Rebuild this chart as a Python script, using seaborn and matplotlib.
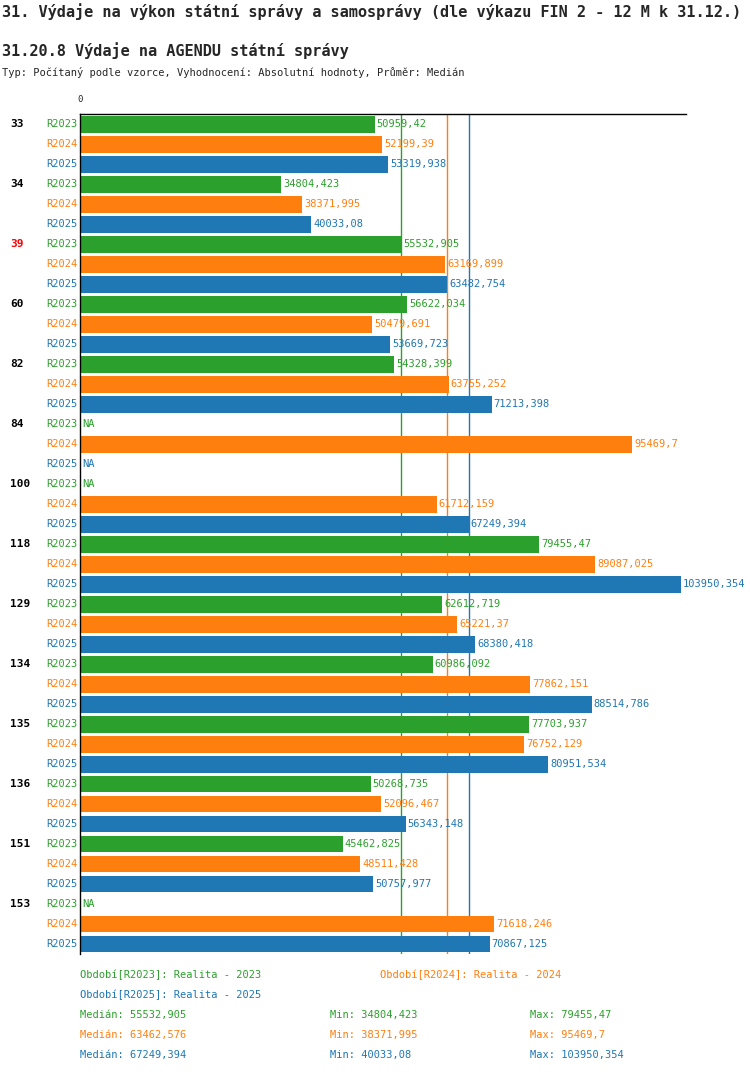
import numpy as np
import pandas as pd
import seaborn as sns
import matplotlib.pyplot as plt

groups = ['33', '34', '39', '60', '82', '84', '100', '118', '129', '134', '135', '136', '151', '153']
series = ['R2023', 'R2024', 'R2025']
r2023 = [50959.42, 34804.423, 55532.905, 56622.034, 54328.399, np.nan, np.nan, 79455.47,
         62612.719, 60986.092, 77703.937, 50268.735, 45462.825, np.nan]
r2024 = [52199.39, 38371.995, 63169.899, 50479.691, 63755.252, 95469.7, 61712.159, 89087.025,
         65221.37, 77862.151, 76752.129, 52096.467, 48511.428, 71618.246]
r2025 = [53319.938, 40033.08, 63482.754, 53669.723, 71213.398, np.nan, 67249.394, 103950.354,
         68380.418, 88514.786, 80951.534, 56343.148, 50757.977, 70867.125]
labels_txt = {
    'R2023': ['50959,42', '34804,423', '55532,905', '56622,034', '54328,399', 'NA', 'NA', '79455,47',
              '62612,719', '60986,092', '77703,937', '50268,735', '45462,825', 'NA'],
    'R2024': ['52199,39', '38371,995', '63169,899', '50479,691', '63755,252', '95469,7', '61712,159',
              '89087,025', '65221,37', '77862,151', '76752,129', '52096,467', '48511,428', '71618,246'],
    'R2025': ['53319,938', '40033,08', '63482,754', '53669,723', '71213,398', 'NA', '67249,394',
              '103950,354', '68380,418', '88514,786', '80951,534', '56343,148', '50757,977', '70867,125'],
}
medians = {'R2023': 55532.905, 'R2024': 63462.576, 'R2025': 67249.394}
colors = {'R2023': '#2ca02c', 'R2024': '#ff7f0e', 'R2025': '#1f77b4'}
mono = 'DejaVu Sans Mono'

rows = []
for gi, g in enumerate(groups):
    for si, s in enumerate(series):
        v = [r2023, r2024, r2025][si][gi]
        rows.append({'group': g, 'series': s, 'row': gi * 3 + si, 'value': v,
                     'label': labels_txt[s][gi]})
df = pd.DataFrame(rows)

sns.set_style('white')
plt.rcParams['font.family'] = [mono]
fig = plt.figure(figsize=(7.5, 10.74), dpi=100)
ax = fig.add_axes([80 / 750, 1 - 954 / 1074, 606 / 750, 840 / 1074])

sns.barplot(data=df.dropna(subset=['value']), x='value', y='row', hue='series', orient='h',
            native_scale=True, dodge=False, palette=colors, width=0.85, ax=ax, legend=False,
            saturation=1, linewidth=0)
ax.set_ylim(len(df) - 0.5, -0.5)
ax.set_xlim(0, 104815)
for s in series:
    ax.axvline(medians[s], color=colors[s], lw=1, zorder=0)

fs = 7.5
for _, r in df.iterrows():
    x = 0 if np.isnan(r['value']) else r['value']
    ax.text(x + 350, r['row'], r['label'], color=colors[r['series']], fontsize=fs,
            va='center', ha='left', clip_on=False)
    ax.text(-500, r['row'], r['series'], color=colors[r['series']], fontsize=fs,
            va='center', ha='right', clip_on=False)
    if r['series'] == 'R2023':
        ax.text(-12100, r['row'], r['group'], color='red' if r['group'] == '39' else 'black',
                fontsize=fs + 0.5, fontweight='bold', va='center', ha='left', clip_on=False)

for sp in ['right', 'bottom']:
    ax.spines[sp].set_visible(False)
for sp in ['left', 'top']:
    ax.spines[sp].set_color('black')
    ax.spines[sp].set_linewidth(1)
ax.set_xticks([])
ax.set_yticks([])
ax.set_xlabel('')
ax.set_ylabel('')
ax.text(0, -1.0, '0', fontsize=fs - 1, ha='center', va='bottom', clip_on=False)

def ftxt(x, y, s, **kw):
    fig.text(x / 750, 1 - y / 1074, s, va='center', ha='left', **kw)

ftxt(2, 12, '31. Výdaje na výkon státní správy a samosprávy (dle výkazu FIN 2 - 12 M k 31.12.)',
     fontsize=11, fontweight='bold')
ftxt(2, 51, '31.20.8 Výdaje na AGENDU státní správy', fontsize=11, fontweight='bold')
ftxt(2, 73, 'Typ: Počítaný podle vzorce, Vyhodnocení: Absolutní hodnoty, Průměr: Medián', fontsize=fs)

ftxt(80, 975, 'Období[R2023]: Realita - 2023', color=colors['R2023'], fontsize=fs)
ftxt(380, 975, 'Období[R2024]: Realita - 2024', color=colors['R2024'], fontsize=fs)
ftxt(80, 995, 'Období[R2025]: Realita - 2025', color=colors['R2025'], fontsize=fs)
stats = [('Medián: 55532,905', 'Min: 34804,423', 'Max: 79455,47'),
         ('Medián: 63462,576', 'Min: 38371,995', 'Max: 95469,7'),
         ('Medián: 67249,394', 'Min: 40033,08', 'Max: 103950,354')]
for i, (s, st) in enumerate(zip(series, stats)):
    y = 1015 + 20 * i
    for x, t in zip([80, 330, 530], st):
        ftxt(x, y, t, color=colors[s], fontsize=fs)

fig.savefig('out.png', dpi=100)
